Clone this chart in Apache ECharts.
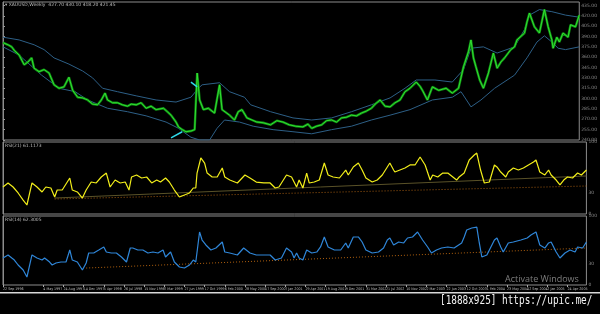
<!DOCTYPE html>
<html><head><meta charset="utf-8">
<script src="https://cdn.jsdelivr.net/npm/echarts@6/dist/echarts.min.js"></script>
<style>html,body{margin:0;padding:0;background:#000;}#c{width:600px;height:314px;}</style>
</head><body><div id="c"></div>
<script>
// time axis labels, one every 16 weeks from 22 Sep 1996
const tickLabels = ["22 Sep 1996","12 Jan 1997","4 May 1997","24 Aug 1997","14 Dec 1997","5 Apr 1998","26 Jul 1998","15 Nov 1998","7 Mar 1999","27 Jun 1999","17 Oct 1999","6 Feb 2000","28 May 2000","17 Sep 2000","7 Jan 2001","29 Apr 2001","19 Aug 2001","9 Dec 2001","31 Mar 2002","21 Jul 2002","10 Nov 2002","2 Mar 2003","22 Jun 2003","12 Oct 2003","1 Feb 2004","23 May 2004","12 Sep 2004","2 Jan 2005","24 Apr 2005"];
const weeksPerLabel = 16;
const totalWeeks = 463;

// [week index, price]
const price = [[0,381],[4,378],[7,375],[9,370],[13,363],[17,349],[20,353],[23,359],[25,344],[29,339],[33,342],[37,337],[41,320],[45,315],[49,317],[53,331],[56,312],[60,302],[64,301],[68,298],[72,292],[76,291],[79,298],[82,308],[84,298],[88,294],[92,294],[96,291],[100,289],[103,292],[107,291],[111,294],[115,286],[119,289],[123,284],[129,286],[132,281],[135,276],[139,266],[141,259],[144,255],[147,252],[151,253],[154,255],[156,337],[158,298],[161,284],[165,286],[170,279],[174,320],[176,284],[182,276],[186,269],[189,281],[192,284],[196,272],[200,269],[204,266],[209,265],[215,262],[220,268],[225,266],[230,262],[235,260],[241,259],[245,263],[248,257],[252,260],[256,262],[260,268],[264,269],[268,266],[272,272],[276,273],[280,276],[284,275],[288,279],[292,282],[296,286],[299,292],[303,298],[307,289],[311,288],[315,294],[319,298],[323,310],[327,315],[332,324],[335,318],[337,312],[341,298],[345,317],[350,312],[356,315],[361,308],[366,315],[370,346],[374,368],[376,385],[378,359],[380,346],[383,327],[386,315],[390,337],[394,366],[397,344],[400,353],[403,359],[408,371],[411,375],[413,385],[419,395],[421,411],[423,424],[427,404],[431,395],[435,429],[438,404],[441,385],[442,373],[445,389],[447,382],[450,395],[454,389],[456,407],[460,404],[463,421]];
const upperBand = [[0,389],[13,385],[25,378],[33,371],[41,359],[53,350],[64,340],[72,330],[80,315],[92,310],[107,304],[123,298],[139,295],[151,302],[157,315],[160,320],[174,323],[182,310],[194,302],[199,291],[215,281],[233,272],[248,269],[264,272],[280,281],[296,291],[311,301],[323,315],[332,327],[347,327],[361,324],[370,342],[376,373],[386,375],[397,366],[411,375],[419,400],[423,421],[431,429],[441,426],[452,421],[463,418]];
const lowerBand = [[0,375],[13,363],[31,334],[45,315],[58,310],[68,298],[84,286],[100,281],[115,275],[131,266],[141,257],[151,244],[158,240],[166,240],[172,257],[178,269],[190,266],[201,260],[217,255],[233,252],[248,249],[264,255],[280,260],[296,269],[311,276],[327,284],[345,298],[361,302],[368,310],[376,288],[384,298],[395,315],[411,334],[421,359],[429,382],[435,391],[441,382],[446,373],[452,371],[463,375]];
const drawnLineA = [[151,324],[156,317]];
const drawnLineB = [[135,243],[144,252]];

// RSI (yellow pane)
const rsiYellow = [[0,37.5],[4,43.1],[8,37.5],[12,29.2],[16,19.4],[19,12.5],[23,43.1],[27,37.5],[31,30.6],[34,37.5],[38,36.1],[41,23.6],[43,33.3],[47,33.3],[53,50],[55,33.3],[59,30.6],[63,22.2],[66,33.3],[70,44.4],[74,43.1],[78,51.4],[82,56.9],[85,37.5],[89,47.2],[93,43.1],[97,44.4],[100,33.3],[102,51.4],[106,54.2],[110,50],[114,51.4],[118,43.1],[122,47.2],[125,44.4],[129,50],[132,44.4],[136,33.3],[140,23.6],[144,26.4],[148,29.2],[151,36.1],[153,36.1],[154,56.9],[157,77.8],[160,70.8],[162,56.9],[166,51.4],[170,51.4],[174,63.9],[176,51.4],[180,47.2],[186,43.1],[192,54.2],[196,50],[201,44.4],[207,43.1],[212,43.1],[216,36.1],[219,37.5],[225,54.2],[229,51.4],[233,37.5],[235,47.2],[238,36.1],[241,56.9],[243,43.1],[247,44.4],[251,47.2],[255,70.8],[258,54.2],[262,51.4],[267,50],[272,61.1],[274,54.2],[278,65.3],[282,70.8],[285,61.1],[288,50],[293,44.4],[297,47.2],[301,54.2],[305,65.3],[307,70.8],[310,61.1],[311,58.3],[315,61.1],[319,63.9],[323,68.1],[327,68.1],[331,79.2],[335,68.1],[339,47.2],[341,54.2],[345,51.4],[349,56.9],[353,56.9],[357,51.4],[360,47.2],[362,51.4],[366,56.9],[370,75],[374,81.9],[376,84.7],[379,61.1],[382,43.1],[386,44.4],[390,68.1],[392,65.3],[395,58.3],[399,51.4],[401,58.3],[405,63.9],[409,61.1],[413,63.9],[417,68.1],[421,72.2],[423,75],[426,58.3],[430,54.2],[433,61.1],[435,54.2],[439,47.2],[442,40.3],[445,47.2],[448,51.4],[452,50],[456,56.9],[459,54.2],[463,61.1]];
const yellowTrend = [[41,22.2],[463,52.8]];
const yellowSignal = [[41,20.8],[463,38.9]];

// RSI (blue pane)
const rsiBlue = [[0,39.1],[4,43.5],[7,39.1],[9,36.2],[12,29],[16,21.7],[19,11.6],[23,43.5],[27,39.1],[31,36.2],[33,39.1],[37,33.3],[39,29],[42,31.9],[46,33.3],[50,33.3],[53,50.7],[55,36.2],[59,33.3],[63,21.7],[66,31.9],[68,46.4],[72,46.4],[76,50.7],[80,55.1],[82,47.8],[86,46.4],[90,46.4],[94,40.6],[98,33.3],[101,53.6],[103,53.6],[107,50.7],[111,50.7],[115,46.4],[119,47.8],[123,46.4],[127,50.7],[129,40.6],[133,47.8],[136,33.3],[140,26.1],[144,24.6],[148,29],[151,36.2],[153,33.3],[156,76.8],[158,65.2],[161,58],[165,50.7],[169,53.6],[174,62.3],[176,47.8],[180,46.4],[186,43.5],[191,53.6],[196,46.4],[201,43.5],[207,43.5],[212,43.5],[216,36.2],[221,39.1],[225,53.6],[229,47.8],[231,39.1],[233,46.4],[235,39.1],[238,36.2],[241,50.7],[245,46.4],[249,47.8],[252,55.1],[255,69.6],[258,55.1],[263,50.7],[268,50.7],[272,60.9],[274,53.6],[278,69.6],[282,69.6],[285,62.3],[288,50.7],[293,46.4],[298,47.8],[302,53.6],[305,65.2],[307,68.1],[310,58],[314,62.3],[318,60.9],[321,68.1],[325,69.6],[329,76.8],[333,65.2],[337,55.1],[340,46.4],[344,50.7],[348,53.6],[353,55.1],[358,53.6],[364,60.9],[366,69.6],[368,79.7],[372,82.6],[376,84],[378,60.9],[380,40.6],[384,43.5],[390,65.2],[392,68.1],[395,55.1],[397,47.8],[401,60.9],[405,62.3],[411,65.2],[416,68.1],[419,72.5],[423,76.8],[426,58],[430,53.6],[433,60.9],[435,62.3],[439,47.8],[442,39.1],[446,46.4],[450,50.7],[454,47.8],[456,55.1],[460,53.6],[463,62.3]];
const blueTrend = [[66,24.6],[463,53.6]];

const rsiLevels = [0, 30, 100];

const chart = echarts.init(document.getElementById('c'), null, {renderer:'canvas'});
const border = '#8c8c8c';
const grids = [
  {left:3, right:7, top:2, height:138},
  {left:3, right:7, top:142, height:72},
  {left:3, right:7, top:216, height:69}
].map(g => Object.assign({show:true, borderColor:border, borderWidth:1, backgroundColor:'#000'}, g));

function xAx(i, showLabels){
  return {
    type:'value', gridIndex:i, min:0, max:totalWeeks, interval:weeksPerLabel,
    axisLine:{show:false}, splitLine:{show:false},
    axisTick:{show:showLabels, length:2, inside:false, lineStyle:{color:'#aaa'}},
    axisLabel:{show:showLabels, color:'#bdbdbd', fontSize:3.6, fontFamily:'DejaVu Sans Condensed', align:'left', margin:2,
      showMinLabel:true, showMaxLabel:false, hideOverlap:false,
      formatter:v => tickLabels[Math.round(v/weeksPerLabel)] || ''}
  };
}
function rsiY(i){
  return {
    type:'value', gridIndex:i, position:'right', min:0, max:100, interval:10,
    axisLine:{show:true, lineStyle:{color:border}}, splitLine:{show:false},
    axisTick:{show:false},
    axisLabel:{color:'#8a8a8a', fontSize:4.5, fontFamily:'DejaVu Sans', margin:2,
      formatter:v => rsiLevels.indexOf(v) >= 0 ? String(v) : ''}
  };
}

const option = {
  backgroundColor:'#000',
  animation:false,
  grid:grids,
  xAxis:[xAx(0,false), xAx(1,false), xAx(2,true)],
  yAxis:[
    {type:'value', gridIndex:0, position:'right', min:240, max:440, interval:15,
      axisLine:{show:true, lineStyle:{color:border}}, splitLine:{show:false},
      axisTick:{show:true, length:2, lineStyle:{color:'#999'}},
      axisLabel:{color:'#8a8a8a', fontSize:4.5, fontFamily:'DejaVu Sans', margin:2, showMaxLabel:false,
        formatter:v => v.toFixed(2)}},
    rsiY(1), rsiY(2)
  ],
  series:[
    {type:'line', xAxisIndex:0, yAxisIndex:0, data:upperBand, showSymbol:false, lineStyle:{color:'#2d5f86', width:1}},
    {type:'line', xAxisIndex:0, yAxisIndex:0, data:lowerBand, showSymbol:false, lineStyle:{color:'#2d5f86', width:1}},
    {type:'line', xAxisIndex:0, yAxisIndex:0, data:price, showSymbol:false, lineStyle:{color:'#0e8a12', width:2.4}},
    {type:'line', xAxisIndex:0, yAxisIndex:0, data:price, showSymbol:false, lineStyle:{color:'#36e836', width:0.9}},
    {type:'line', xAxisIndex:0, yAxisIndex:0, data:drawnLineA, showSymbol:false, lineStyle:{color:'#2fd8e8', width:1.5}},
    {type:'line', xAxisIndex:0, yAxisIndex:0, data:drawnLineB, showSymbol:false, lineStyle:{color:'#2fd8e8', width:1.5}},

    {type:'line', xAxisIndex:1, yAxisIndex:1, data:yellowTrend, showSymbol:false, lineStyle:{color:'#5a5228', width:1}},
    {type:'line', xAxisIndex:1, yAxisIndex:1, data:yellowSignal, showSymbol:false, lineStyle:{color:'#a05a10', width:1, type:[1,2]}},
    {type:'line', xAxisIndex:1, yAxisIndex:1, data:rsiYellow, showSymbol:false, lineStyle:{color:'#f2ee1a', width:1.2}},

    {type:'line', xAxisIndex:2, yAxisIndex:2, data:blueTrend, showSymbol:false, lineStyle:{color:'#b0600e', width:1, type:[1,2]}},
    {type:'line', xAxisIndex:2, yAxisIndex:2, data:rsiBlue, showSymbol:false, lineStyle:{color:'#2f86d8', width:1.2}}
  ],
  graphic:[
    {type:'text', left:5, top:2, style:{text:'\u25BE XAUUSD,Weekly  427.70 430.10 418.20 421.45', fill:'#bdbdbd', fontSize:4.5, fontFamily:'DejaVu Sans'}},
    {type:'text', left:5, top:143, style:{text:'RSI(21) 61.1173', fill:'#bdbdbd', fontSize:4.5, fontFamily:'DejaVu Sans'}},
    {type:'text', left:5, top:217, style:{text:'RSI(14) 62.3005', fill:'#bdbdbd', fontSize:4.5, fontFamily:'DejaVu Sans'}},
    {type:'rect', shape:{x:0, y:292, width:600, height:1.5}, style:{fill:'#d8d8d8'}},
    {type:'text', left:505, top:275, style:{text:'Activate Windows', fill:'#7d7d7d', fontSize:9, fontFamily:'Open Sans'}},
    {type:'text', x:440, y:294, scaleY:1.4, style:{text:'[1888x925] https://upic.me/', fill:'#f4f4f4', fontSize:9.4, fontFamily:'DejaVu Sans Mono'}}
  ]
};
chart.setOption(option);
</script>
</body></html>
